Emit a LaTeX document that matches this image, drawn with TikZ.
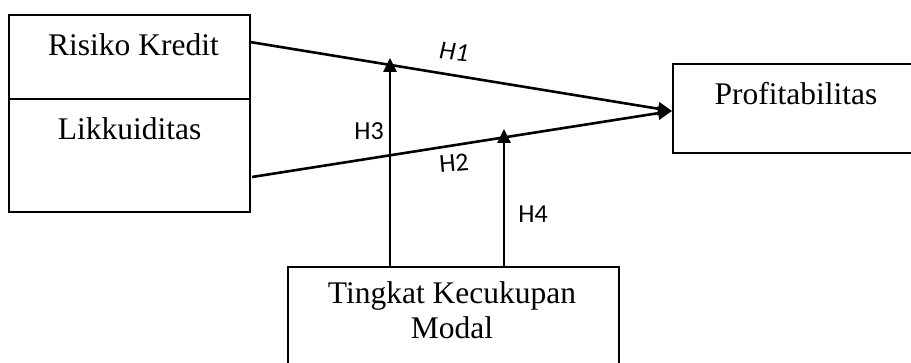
\documentclass[tikz,border=0pt]{standalone}
\usepackage{fontspec}
\setmainfont{Liberation Serif}
\newfontfamily\hfont{Carlito}
\usetikzlibrary{arrows.meta}
\begin{document}
\begin{tikzpicture}[x=1pt,y=-1pt,
  boxstyle/.style={draw, line width=2.2pt, inner sep=0pt},
  lbl/.style={font=\fontsize{31.5}{35}\selectfont, inner sep=0pt, anchor=base},
  hlbl/.style={font=\hfont\fontsize{26}{30}\selectfont, inner sep=0pt},
  conn/.style={line width=2.6pt, -{Triangle[length=14pt,width=13pt]}}]
\useasboundingbox (0,0) rectangle (911,363);
\clip (0,0) rectangle (911,363);
% boxes
\node[boxstyle, minimum width=241pt, minimum height=84pt] (rk) at (129.5,57) {};
\node[boxstyle, minimum width=241pt, minimum height=113pt] (lk) at (129.5,155.5) {};
\node[boxstyle, minimum width=260pt, minimum height=89pt] (prof) at (803,108.5) {};
\node[boxstyle, minimum width=331pt, minimum height=130pt] (tkm) at (453.5,332) {};
% texts
\node[lbl] (rkt) at (133.5,56) {Risiko Kredit};
\node[lbl] (lkt) at (129.5,140) {Likkuiditas};
\node[lbl] (proft) at (796,105) {Profitabilitas};
\node[lbl, align=center, anchor=north] (tkmt) at (452,281) {Tingkat Kecukupan\\Modal};
% connector endpoints
\coordinate (s1) at (250,42);
\coordinate (s2) at (252,177);
\coordinate (t) at (672,111);
\coordinate (b3) at (390,267);
\coordinate (e3) at (390,58);
\coordinate (b4) at (504,267);
\coordinate (e4) at (504,129);
\draw[conn] (s1) -- (t);
\draw[conn] (s2) -- (t);
\draw[conn] (b3) -- (e3);
\draw[conn] (b4) -- (e4);
% hypothesis labels
\node[hlbl, font=\hfont\itshape\fontsize{26}{30}\selectfont, rotate=-6] (h1) at (454,52) {H1};
\node[hlbl, rotate=5] (h2) at (454,163) {H2};
\node[hlbl] (h3) at (369,131) {H3};
\node[hlbl] (h4) at (533,214) {H4};
\end{tikzpicture}
\end{document}
